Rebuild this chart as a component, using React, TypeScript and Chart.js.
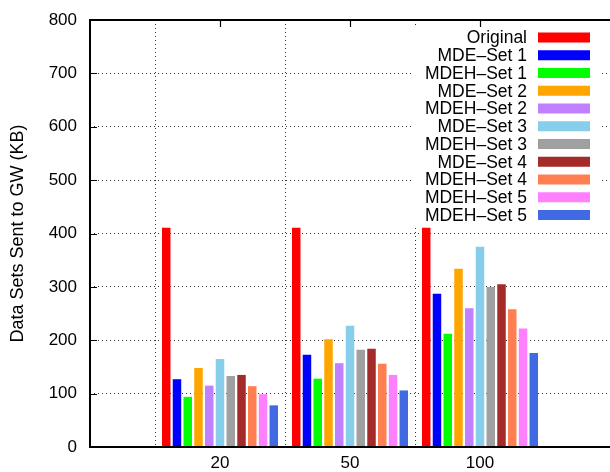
import React, { useEffect, useRef } from "react";
import { Chart, registerables } from "chart.js";

Chart.register(...registerables);

// Group labels along the x axis
const groups = ["20", "50", "100"];

// Series names as shown in the key
const seriesNames = [
  "Original",
  "MDE–Set 1",
  "MDEH–Set 1",
  "MDE–Set 2",
  "MDEH–Set 2",
  "MDE–Set 3",
  "MDEH–Set 3",
  "MDE–Set 4",
  "MDEH–Set 4",
  "MDEH–Set 5",
  "MDEH–Set 5",
];

// Data sets sent to the gateway (KB), one value per group
const original = [411, 411, 411];
const mdeSet1 = [127, 173, 287];
const mdehSet1 = [94, 128, 212];
const mdeSet2 = [148, 202, 334];
const mdehSet2 = [115, 157, 260];
const mdeSet3 = [165, 227, 375];
const mdehSet3 = [133, 182, 300];
const mdeSet4 = [135, 184, 305];
const mdehSet4 = [114, 156, 258];
const mdehSet5a = [99, 135, 222];
const mdehSet5b = [78, 106, 176];

const seriesValues = [
  original,
  mdeSet1,
  mdehSet1,
  mdeSet2,
  mdehSet2,
  mdeSet3,
  mdehSet3,
  mdeSet4,
  mdehSet4,
  mdehSet5a,
  mdehSet5b,
];

const seriesColors = [
  "#ff0000",
  "#0000ff",
  "#00ff00",
  "#ffa500",
  "#c080ff",
  "#87ceeb",
  "#a0a0a0",
  "#a52a2a",
  "#ff7f50",
  "#ff80ff",
  "#4169e1",
];

// Empty slots on both sides leave room around the three groups
const labels = ["", ...groups, ""];

const FONT = "'Liberation Sans', Arial, sans-serif";
const GRID = "rgba(0,0,0,0.8)";

// Frame, inward tick marks and the opaque key box
const framePlugin = {
  id: "frame",
  beforeDatasetsDraw(chart: any) {
    const { ctx, chartArea, scales } = chart;
    const y = scales.y;
    const x = scales.x;
    ctx.save();
    ctx.strokeStyle = "#000";
    ctx.lineWidth = 1.2;
    ctx.beginPath();
    for (let v = 100; v < 800; v += 100) {
      const py = Math.round(y.getPixelForValue(v)) + 0.5;
      ctx.moveTo(chartArea.left, py);
      ctx.lineTo(chartArea.left + 7, py);
    }
    for (let i = 1; i <= groups.length; i++) {
      const px = Math.round(x.getPixelForValue(i)) + 0.5;
      ctx.moveTo(px, chartArea.top);
      ctx.lineTo(px, chartArea.top + 7);
      ctx.moveTo(px, chartArea.bottom);
      ctx.lineTo(px, chartArea.bottom - 7);
    }
    ctx.stroke();
    ctx.restore();
  },
  afterDatasetsDraw(chart: any) {
    const { ctx, chartArea } = chart;
    ctx.save();

    // key
    const boxLeft = chartArea.right - 199;
    const boxTop = chartArea.top + 7;
    ctx.fillStyle = "#fff";
    ctx.fillRect(boxLeft, boxTop, 188, 198);
    ctx.font = `17.5px ${FONT}`;
    ctx.textAlign = "right";
    ctx.textBaseline = "middle";
    chart.data.datasets.forEach((ds: any, i: number) => {
      const cy = chartArea.top + 17.5 + i * 17.75;
      ctx.fillStyle = "#000";
      ctx.fillText(ds.label, chartArea.right - 83, cy + 1);
      ctx.fillStyle = ds.backgroundColor;
      ctx.fillRect(chartArea.right - 72, cy - 5, 52, 10);
    });

    // border
    ctx.strokeStyle = "#000";
    ctx.lineWidth = 2;
    ctx.beginPath();
    ctx.moveTo(chartArea.right + 2, chartArea.top);
    ctx.lineTo(chartArea.left, chartArea.top);
    ctx.lineTo(chartArea.left, chartArea.bottom);
    ctx.lineTo(chartArea.right + 2, chartArea.bottom);
    ctx.stroke();
    ctx.restore();
  },
};

export default function App() {
  const canvasRef = useRef<HTMLCanvasElement | null>(null);

  useEffect(() => {
    if (!canvasRef.current) return;
    const chart = new Chart(canvasRef.current, {
      type: "bar",
      data: {
        labels,
        datasets: seriesNames.map((name, i) => ({
          label: name,
          data: [null, ...seriesValues[i], null],
          backgroundColor: seriesColors[i],
          borderWidth: 0,
          categoryPercentage: 0.91,
          barPercentage: 0.79,
        })),
      },
      options: {
        responsive: false,
        animation: false,
        layout: { padding: { top: 20, left: 0, right: 0, bottom: 0 } },
        plugins: {
          legend: { display: false },
          tooltip: { enabled: false },
        },
        scales: {
          x: {
            offset: false,
            grid: {
              color: (c: any) =>
                c.index > 0 && c.index < labels.length - 1 ? GRID : "rgba(0,0,0,0)",
              drawTicks: true,
              tickLength: 6,
              tickColor: "rgba(0,0,0,0)",
              lineWidth: 1,
            },
            border: { display: false, dash: [1, 3] },
            ticks: {
              color: "#000",
              font: { family: FONT, size: 17 },
              padding: 0,
              maxRotation: 0,
              autoSkip: false,
            },
            afterFit: (s: any) => {
              s.height = 25;
            },
          },
          y: {
            min: 0,
            max: 800,
            grid: {
              color: (c: any) =>
                c.tick && c.tick.value > 0 && c.tick.value < 800 ? GRID : "rgba(0,0,0,0)",
              drawTicks: true,
              tickLength: 13,
              tickColor: "rgba(0,0,0,0)",
              lineWidth: 1,
            },
            border: { display: false, dash: [1, 3] },
            ticks: {
              stepSize: 100,
              color: "#000",
              font: { family: FONT, size: 17 },
              padding: 0,
            },
            title: {
              display: true,
              text: "Data Sets Sent to GW (KB)",
              color: "#000",
              font: { family: FONT, size: 18, weight: "normal" },
              padding: { top: 7, bottom: 0 },
            },
            afterFit: (s: any) => {
              s.width = 90;
            },
          },
        },
      },
      plugins: [framePlugin],
    });
    return () => chart.destroy();
  }, []);

  return (
    <div style={{ position: "fixed", left: 0, top: 0, width: 610, height: 472, background: "#fff" }}>
      <canvas ref={canvasRef} width={610} height={472} />
    </div>
  );
}
